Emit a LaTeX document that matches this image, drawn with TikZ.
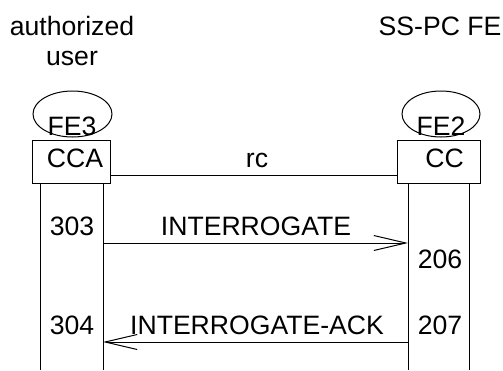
\documentclass[tikz,border=0pt]{standalone}
\usepackage{fontspec}
\setmainfont{Liberation Sans}
\usetikzlibrary{shapes.geometric,arrows.meta,positioning}

\tikzset{
  lbl/.style={anchor=base,inner sep=0pt,font=\fontsize{13.3}{16}\selectfont},
  fe/.style={draw,ellipse,inner sep=0pt,minimum height=23pt},
  box/.style={draw,rectangle,inner sep=0pt,minimum height=21.5pt,
    text height=9.5pt,text depth=4pt,font=\fontsize{13.3}{16}\selectfont},
  msg/.style={-{Straight Barb[length=16pt,width=7.5pt]}}
}

\begin{document}
\begin{tikzpicture}[x=0.5pt,y=-0.5pt,line width=0.5pt]
\useasboundingbox (0,0) rectangle (503,370);

% entity names
\node [lbl] (u1) at (72,35) {authorized};
\node [lbl] (u2) at (72,65) {user};
\node [lbl] (sspc) at (440,35) {SS-PC FE};

% functional entities
\node [fe,minimum width=39.5pt] (fe3) at (72.5,114) {};
\node [fe,minimum width=39pt] (fe2) at (441,114) {};
\node [lbl] (fe3t) at (72,135) {FE3};
\node [lbl] (fe2t) at (441,135) {FE2};

\node [box,minimum width=39pt] (cca) at (71,161.5) {\hspace*{4pt}CCA};
\node [box,minimum width=41.5pt] (cc) at (438.5,161.5) {\hspace*{6pt}CC};

% relationship
\draw (cca.east |- 0,175) -- (cc.west |- 0,175);
\node [lbl] (rc) at (257,167) {rc};

% lifelines
\foreach \x in {40,103}
  \draw (\x,0 |- cca.south) -- (\x,370);
\foreach \x in {408,469}
  \draw (\x,0 |- cc.south) -- (\x,370);

\coordinate (a1) at (103,243);
\coordinate (b1) at (408,243);
\coordinate (a2) at (103,342);
\coordinate (b2) at (408,342);

% messages
\draw [msg] (a1) -- (b1);
\draw [msg] (b2) -- (a2);
\node [lbl] (m1) at (256,235) {INTERROGATE};
\node [lbl] (m2) at (257,334) {INTERROGATE-ACK};

% step numbers
\node [lbl] (s303) at (72,235) {303};
\node [lbl] (s304) at (72,334) {304};
\node [lbl] (s206) at (440,268) {206};
\node [lbl] (s207) at (440,334) {207};

\end{tikzpicture}
\end{document}
